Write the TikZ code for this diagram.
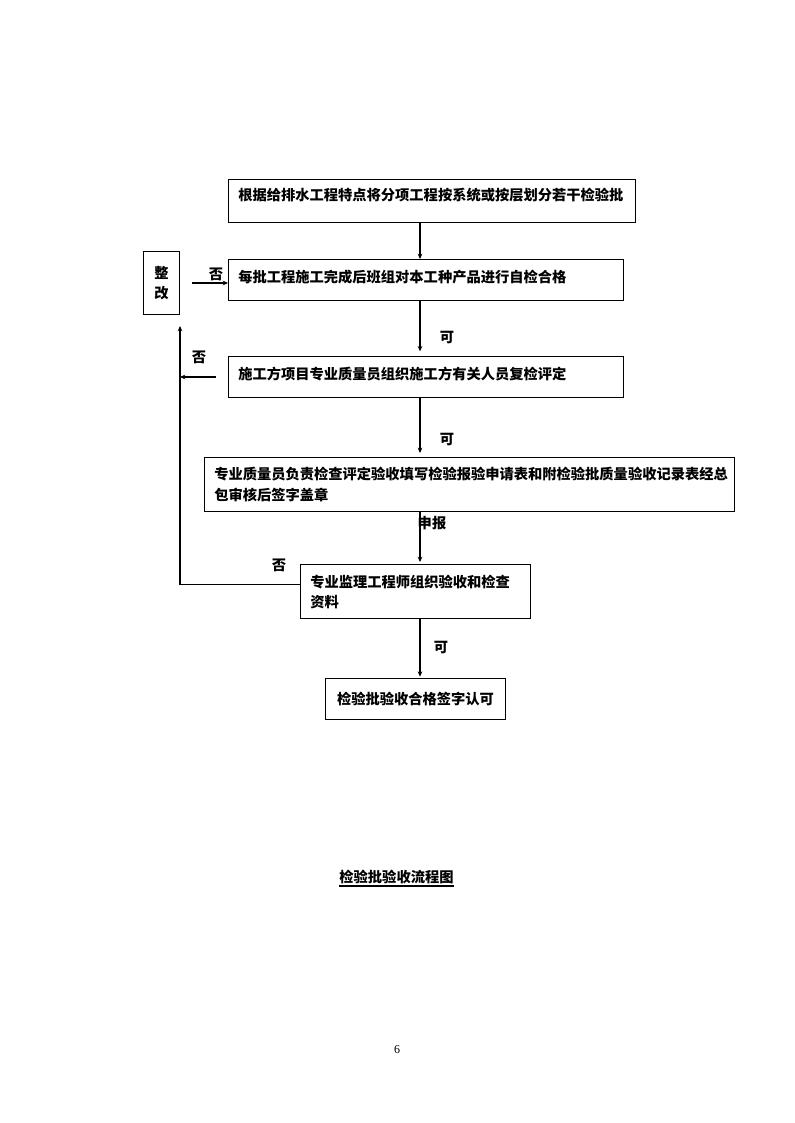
\documentclass[tikz,border=0pt]{standalone}
\usepackage{fontspec}
\setmainfont{Liberation Serif}
\newfontfamily\cjk{Noto Sans CJK SC}
\usetikzlibrary{positioning,arrows.meta}

\begin{document}
\begin{tikzpicture}[x=0.75pt, y=-0.75pt,
  box/.style={rectangle, draw, line width=0.8pt, anchor=north west},
  txt/.style={font=\cjk\bfseries\fontsize{10.7pt}{15.5pt}\selectfont, inner sep=0pt},
  arr/.style={line width=1.3pt, -{Stealth[length=4pt,width=3.5pt]}},
  thinarr/.style={line width=0.9pt, -{Stealth[length=4pt,width=3.5pt]}}]
\useasboundingbox (0,0) rectangle (794,1123);

\node (rect1) [box, minimum width=305.25pt, minimum height=32.25pt] at (228,179) {};
\node (text1) [txt, anchor=west] at (238,195) {根据给排水工程特点将分项工程按系统或按层划分若干检验批};

\node (rect2) [box, minimum width=296.25pt, minimum height=30.75pt] at (228,259) {};
\node (text2) [txt, anchor=west] at (238,277) {每批工程施工完成后班组对本工种产品进行自检合格};

\node (rect3) [box, minimum width=296.25pt, minimum height=30.75pt] at (228,356) {};
\node (text3) [txt, anchor=west] at (238,374) {施工方项目专业质量员组织施工方有关人员复检评定};

\node (rect4) [box, minimum width=397.5pt, minimum height=40.5pt] at (204,457) {};
\node (text4) [txt, anchor=west, align=left] at (214,484.5) {专业质量员负责检查评定验收填写检验报验申请表和附检验批质量验收记录表经总\\包审核后签字盖章};

\node (rect5) [box, minimum width=172.5pt, minimum height=40.5pt] at (300,564) {};
\node (text5) [txt, anchor=west, align=left] at (310,592) {专业监理工程师组织验收和检查\\资料};

\node (rect6) [box, minimum width=135pt, minimum height=30.75pt] at (325,678) {};
\node (text6) [txt] at (rect6.center) {检验批验收合格签字认可};

\node (rectZ) [box, minimum width=27pt, minimum height=47.25pt] at (143,251) {};
\node (textZ) [txt, align=center] at (rectZ.center) {整\\改};

% main line
\coordinate (spine) at (420,0);
\draw[arr] (rect1.south -| spine) -- (rect2.north -| spine);
\draw[arr, shorten >=3.5pt] (rect2.south -| spine) -- (rect3.north -| spine);
\draw[arr, shorten >=3pt] (rect3.south -| spine) -- (rect4.north -| spine);
\draw[arr, shorten >=1.5pt] (rect4.south -| spine) -- (rect5.north -| spine);
\draw[arr, shorten >=1pt] (rect5.south -| spine) -- (rect6.north -| spine);

\node (ok1) [txt] at (447,338) {可};
\node (ok2) [txt] at (447,440) {可};
\node (report) [txt] at (432,523) {申报};
\node (ok3) [txt] at (441,648) {可};

% back to rectification
\coordinate (loopend) at (180,326);
\coordinate (fix1) at (192,283);
\coordinate (fix2) at (216,377);
\draw[thinarr] ([yshift=5.25pt]rect5.west) -| (loopend);
\draw[thinarr] (fix2) -- (fix2 -| loopend);
\draw[thinarr] (fix1) -- (fix1 -| rect2.west);

\node (no1) [txt] at (216,274) {否};
\node (no2) [txt] at (199,357) {否};
\node (no3) [txt] at (279,565) {否};

\node (title) [txt] at (396.5,877) {检验批验收流程图};
\draw[line width=1.4pt] ([yshift=-1.2pt]title.south west) -- ([yshift=-1.2pt]title.south east);

\node (pagenum) [font=\fontsize{9pt}{9pt}\selectfont, inner sep=0pt] at (397,1050) {6};
\end{tikzpicture}
\end{document}
